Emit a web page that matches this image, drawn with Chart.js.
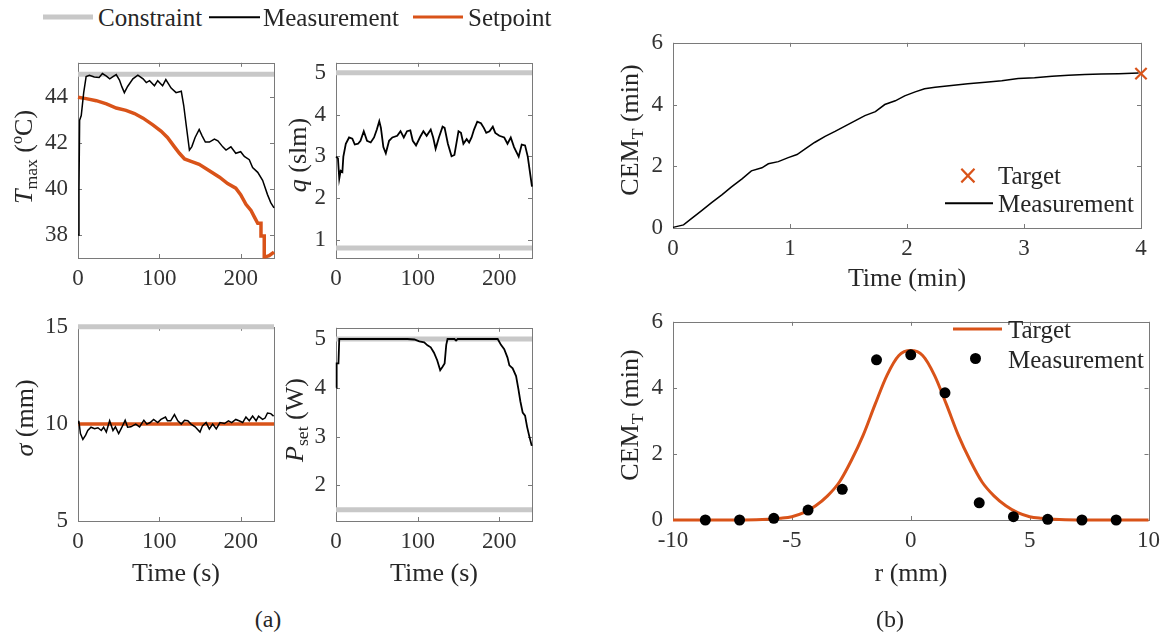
<!DOCTYPE html>
<html>
<head>
<meta charset="utf-8">
<script src="https://cdn.jsdelivr.net/npm/chart.js@4.4.1/dist/chart.umd.min.js"></script>
<style>
  body { margin: 0; width: 1168px; height: 638px; position: relative; overflow: hidden; background: #fff;
         font-family: 'Liberation Serif', 'Times New Roman', serif; color: #262626; }
  canvas { position: absolute; }
  .lbl { position: absolute; white-space: nowrap; line-height: 1; transform: translate(-50%, -50%); }
  .rot { transform: translate(-50%, -50%) rotate(-90deg); }
  .leg { position: absolute; white-space: nowrap; line-height: 1; transform: translate(0, -50%); font-size: 25px; }
  .ttl { font-size: 26px; }
  .cap { font-size: 24px; }
  .bar { position: absolute; transform: translate(0, -50%); }
  sub { font-size: 68%; vertical-align: -0.3em; }
  sup { font-size: 62%; vertical-align: 0.6em; }
</style>
</head>
<body>
<script>
/* ── colours / fonts ─────────────────────────────────────── */
const ORANGE = '#d95319';
const GRAY   = '#c8c8c8';
const BLACK  = '#000000';
const FONT   = "'Liberation Serif', 'Times New Roman', serif";

/* ── (a) T_max ───────────────────────────────────────────── */
const tmaxTime = [0, 1.2, 2, 4, 7, 10, 14, 20, 26, 30, 35, 39, 43, 47, 51, 54, 57, 61, 67.5, 73.6,
  80, 84, 88, 94, 98, 104, 108, 114.5, 120.6, 127, 130, 133, 137, 140, 144, 149, 152.6, 156.6, 161.6, 167.7,
  172, 178, 182, 188, 194, 200, 204.5, 210.6, 214.7, 221, 227, 233, 237, 241];
const tmaxMeas = [38.0, 40.0, 43.0, 43.2, 44.2, 44.9, 44.96, 44.88, 44.86, 45.03, 44.92, 44.8, 44.9, 44.99, 44.75, 44.45, 44.2, 44.47, 44.8, 44.96,
  44.8, 44.64, 44.72, 44.5, 44.72, 44.5, 44.77, 44.4, 44.2, 44.26, 43.64, 42.8, 41.7, 41.85, 42.25, 42.6, 42.32, 42.05, 42.05, 42.18,
  42.1, 41.84, 41.7, 41.84, 41.56, 41.63, 41.42, 41.28, 40.94, 40.73, 40.38, 39.76, 39.41, 39.18];
const tmaxSpTime = [0, 10, 22.5, 35, 47, 59, 69.5, 80, 92, 102, 110, 118.6, 124.7, 131, 139, 149, 161.5, 174, 184, 194,
  200, 206.5, 212.7, 216.8, 221, 225, 225, 229, 229, 230.5, 235, 241];
const tmaxSetpoint = [44.0, 43.94, 43.85, 43.71, 43.53, 43.43, 43.29, 43.09, 42.8, 42.53, 42.25, 41.84, 41.56, 41.31, 41.21, 41.08, 40.8, 40.52, 40.24, 40.04,
  39.76, 39.34, 39.07, 38.79, 38.51, 38.51, 37.96, 37.96, 37.05, 37.05, 37.1, 37.26];
const tmaxLimit = 45;
const tmaxYTicks = [38, 40, 42, 44];

/* ── (a) q ───────────────────────────────────────────────── */
const qTime = [0, 2.4, 4, 5.7, 7.8, 9, 12, 16, 20, 23, 27, 30, 34, 38, 42.5, 46.6, 50, 53, 55, 58,
  61, 65, 69, 75, 79, 83, 87, 91, 94, 98, 103, 107, 111, 116, 119, 122, 126, 130.5, 133, 137,
  141.5, 145, 150, 153, 156, 160, 163, 166, 169, 173, 177.5, 181, 184, 188, 192, 195, 200, 206, 210, 214,
  218, 223.7, 227.4, 231.5, 234.8, 240];
const qMeas = [2.99, 2.95, 2.46, 2.65, 2.62, 2.99, 3.3, 3.45, 3.42, 3.28, 3.3, 3.37, 3.6, 3.37, 3.33, 3.45, 3.64, 3.84, 3.68, 3.22,
  3.07, 3.37, 3.45, 3.49, 3.6, 3.45, 3.6, 3.62, 3.37, 3.26, 3.46, 3.6, 3.49, 3.64, 3.45, 3.18, 3.45, 3.71, 3.68, 3.3,
  3.0, 3.03, 3.6, 3.56, 3.3, 3.41, 3.33, 3.45, 3.64, 3.83, 3.79, 3.68, 3.56, 3.6, 3.71, 3.56, 3.49, 3.45, 3.3, 3.45,
  3.22, 2.99, 3.28, 3.26, 2.99, 2.27];
const qLimits = [0.8, 5];
const qYTicks = [1, 2, 3, 4, 5];

/* ── (a) sigma ───────────────────────────────────────────── */
const sigTime = [0, 1, 3, 6, 9.4, 12, 16, 20.4, 24.5, 28.6, 31.5, 34.8, 38.9, 43, 46, 50, 54, 58, 61, 65,
  71, 75.7, 81, 84.7, 88.8, 93, 98, 102, 107.6, 110, 114, 118.6, 122.7, 127, 131, 135, 139, 144, 150, 153,
  157.5, 161.5, 165.6, 170, 174.6, 180, 185, 189, 194, 198, 202.5, 206.5, 210.6, 214.7, 219, 222, 227, 230, 233, 237, 240.5];
const sigMeas = [10.05, 10.16, 9.5, 9.2, 9.42, 9.66, 9.83, 9.75, 9.8, 9.66, 9.83, 9.58, 10.16, 9.66, 9.85, 9.5, 9.83, 10.19, 9.83, 9.85,
  9.99, 9.85, 10.19, 9.99, 10.07, 10.23, 10.07, 10.23, 10.35, 10.16, 10.16, 10.48, 10.16, 9.99, 10.19, 10.16, 9.99, 9.85, 9.58, 9.9,
  10.07, 9.74, 9.99, 9.74, 10.07, 10.02, 10.16, 10.07, 10.23, 10.16, 10.07, 10.35, 10.16, 10.4, 10.16, 10.4, 10.23, 10.3, 10.56, 10.53, 10.4];
const sigSetpoint = 10;
const sigLimit = 15;
const sigYTicks = [5, 10, 15];

/* ── (a) P_set ───────────────────────────────────────────── */
const pTime = [0.5, 0.8, 3, 4, 30, 60, 87.5, 96, 102, 108, 112, 116, 120, 124, 127.6, 130.5, 133, 135, 136.6,
  145, 147, 149, 170, 198, 202, 206, 210, 212.3, 216.3, 220.5, 223.3, 225.8, 228.6, 231.5, 234, 236.8, 239.7];
const pMeas = [4.0, 4.5, 4.5, 5.0, 5.0, 5.0, 5.0, 4.99, 4.95, 4.93, 4.87, 4.83, 4.72, 4.56, 4.36, 4.43, 4.5, 4.88, 5.0,
  5.0, 4.97, 5.0, 5.0, 5.0, 4.88, 4.79, 4.62, 4.46, 4.4, 4.24, 3.98, 3.72, 3.49, 3.43, 3.2, 3.0, 2.81];
const pLimits = [1.5, 5];
const pYTicks = [2, 3, 4, 5];

const timeTicks = [0, 100, 200];

/* ── (b) CEM vs time ─────────────────────────────────────── */
const cemTime = [0, 0.09, 0.16, 0.245, 0.33, 0.42, 0.5, 0.59, 0.67, 0.76, 0.815, 0.9, 0.985, 1.06, 1.13, 1.21, 1.3, 1.385, 1.47, 1.555,
  1.64, 1.73, 1.81, 1.9, 1.98, 2.07, 2.15, 2.24, 2.38, 2.52, 2.67, 2.81, 2.95, 3.09, 3.24, 3.38, 3.52, 3.66, 3.81, 3.98];
const cemMeas = [0.02, 0.1, 0.31, 0.56, 0.82, 1.08, 1.33, 1.59, 1.85, 1.95, 2.08, 2.15, 2.28, 2.38, 2.56, 2.77, 2.97, 3.13, 3.3, 3.47,
  3.64, 3.77, 4.0, 4.12, 4.28, 4.41, 4.51, 4.56, 4.62, 4.67, 4.72, 4.77, 4.84, 4.87, 4.92, 4.95, 4.97, 4.99, 5.0, 5.02];
const cemTargetTime = [4];
const cemTarget = [5];
const minTicks = [0, 1, 2, 3, 4];
const cemYTicks = [0, 2, 4, 6];

/* ── (b) CEM profile ─────────────────────────────────────── */
const rGrid = [-10, -7, -6, -5.5, -5, -4.5, -4, -3.5, -3, -2.5, -2, -1.5, -1, -0.5, 0,
  0.5, 1, 1.5, 2, 2.5, 3, 3.5, 4, 4.5, 5, 5.5, 6, 7, 10];
const profileTarget = [0, 0, 0.02, 0.05, 0.1, 0.22, 0.43, 0.73, 1.15, 1.8, 2.57, 3.5, 4.38, 4.98, 5.13,
  4.98, 4.38, 3.5, 2.57, 1.8, 1.15, 0.73, 0.43, 0.22, 0.1, 0.05, 0.02, 0, 0];
const rMeasured = [-8.64, -7.2, -5.76, -4.32, -2.88, -1.44, 0, 1.44, 2.88, 4.32, 5.76, 7.2, 8.64];
const profileMeas = [0.0, 0.0, 0.05, 0.3, 0.93, 4.85, 5.0, 3.85, 0.52, 0.1, 0.02, 0.0, 0.0];
const rTicks = [-10, -5, 0, 5, 10];

/* ── helpers ─────────────────────────────────────────────── */
function pts(xs, ys) { return xs.map((x, i) => ({ x, y: ys[i] })); }
function hline(y, x0, x1) { return [{ x: x0, y }, { x: x1, y }]; }

function lineSet(data, color, width, order, clip) {
  return { data, borderColor: color, backgroundColor: color, borderWidth: width,
           pointRadius: 0, fill: false, tension: 0, order, clip: clip === undefined ? 2 : clip };
}

/* box around the axes plus MATLAB-style inward ticks */
const boxPlugin = {
  id: 'box',
  beforeDatasetsDraw(chart) {
    const { ctx, chartArea: a, scales } = chart;
    const x = scales.x, y = scales.y, L = 4;
    ctx.save();
    ctx.strokeStyle = '#7a7a7a';
    ctx.lineWidth = 1;
    ctx.strokeRect(Math.round(a.left) + 0.5, Math.round(a.top) + 0.5,
                   Math.round(a.right - a.left), Math.round(a.bottom - a.top));
    ctx.beginPath();
    x.ticks.forEach(t => {
      const p = Math.round(x.getPixelForValue(t.value)) + 0.5;
      ctx.moveTo(p, a.bottom); ctx.lineTo(p, a.bottom - L);
      ctx.moveTo(p, a.top);    ctx.lineTo(p, a.top + L);
    });
    y.ticks.forEach(t => {
      const p = Math.round(y.getPixelForValue(t.value)) + 0.5;
      ctx.moveTo(a.left, p);  ctx.lineTo(a.left + L, p);
      ctx.moveTo(a.right, p); ctx.lineTo(a.right - L, p);
    });
    ctx.stroke();
    ctx.restore();
  }
};

/* one axes panel: box = plot area in page pixels */
function makePanel(box, xMin, xMax, yMin, yMax, xTicks, yTicks, datasets) {
  const ML = 70, MT = 14, MR = 18, MB = 44;
  const w = Math.round(box.r - box.l) + ML + MR;
  const h = Math.round(box.b - box.t) + MT + MB;
  const c = document.createElement('canvas');
  c.width = w; c.height = h;
  c.style.left = Math.round(box.l - ML) + 'px';
  c.style.top  = Math.round(box.t - MT) + 'px';
  c.style.width = w + 'px'; c.style.height = h + 'px';
  document.body.appendChild(c);

  const tickFont = { family: FONT, size: 23 };
  return new Chart(c, {
    type: 'line',
    data: { datasets },
    plugins: [boxPlugin],
    options: {
      responsive: false,
      animation: false,
      events: [],
      layout: { padding: { left: 0, top: MT, right: MR, bottom: 0 } },
      plugins: { legend: { display: false }, tooltip: { enabled: false } },
      scales: {
        x: {
          type: 'linear', min: xMin, max: xMax,
          afterBuildTicks: s => { s.ticks = xTicks.map(v => ({ value: v })); },
          afterFit: s => { s.height = MB; },
          grid: { display: false, drawTicks: false },
          border: { display: false },
          ticks: { font: tickFont, color: '#333', padding: 7, maxRotation: 0, autoSkip: false }
        },
        y: {
          type: 'linear', min: yMin, max: yMax,
          afterBuildTicks: s => { s.ticks = yTicks.map(v => ({ value: v })); },
          afterFit: s => { s.width = ML; },
          grid: { display: false, drawTicks: false },
          border: { display: false },
          ticks: { font: tickFont, color: '#333', padding: 10, autoSkip: false }
        }
      }
    }
  });
}

function label(html, x, y, cls) {
  const d = document.createElement('div');
  d.className = 'lbl ' + (cls || '');
  d.style.left = x + 'px'; d.style.top = y + 'px';
  d.innerHTML = html;
  document.body.appendChild(d);
}
function legText(text, x, y) {
  const d = document.createElement('div');
  d.className = 'leg';
  d.style.left = x + 'px'; d.style.top = y + 'px';
  d.textContent = text;
  document.body.appendChild(d);
}
function legBar(x0, x1, y, color, thick) {
  const d = document.createElement('div');
  d.className = 'bar';
  d.style.left = x0 + 'px'; d.style.top = y + 'px';
  d.style.width = (x1 - x0) + 'px'; d.style.height = thick + 'px';
  d.style.background = color;
  document.body.appendChild(d);
}

/* ── panels ──────────────────────────────────────────────── */
makePanel({ l: 77.7, t: 53.3, r: 274, b: 258 }, 0, 241, 37, 45.5, timeTicks, tmaxYTicks, [
  lineSet(hline(tmaxLimit, 0, 241), GRAY, 5, 3, false),
  lineSet(pts(tmaxSpTime, tmaxSetpoint), ORANGE, 3.5, 2, 4),
  lineSet(pts(tmaxTime, tmaxMeas), BLACK, 1.5, 1)
]);

makePanel({ l: 336, t: 53.3, r: 531.7, b: 258.3 }, 0, 240, 0.56, 5.24, timeTicks, qYTicks, [
  lineSet(hline(qLimits[1], 0, 240), GRAY, 5, 3, false),
  lineSet(hline(qLimits[0], 0, 240), GRAY, 5, 3, false),
  lineSet(pts(qTime, qMeas), BLACK, 1.8, 1)
]);

makePanel({ l: 77.7, t: 317.3, r: 274, b: 521 }, 0, 241, 5, 15, timeTicks, sigYTicks, [
  lineSet(hline(sigLimit, 0, 241), GRAY, 5, 3, false),
  lineSet(hline(sigSetpoint, 0, 241), ORANGE, 3.5, 2),
  lineSet(pts(sigTime, sigMeas), BLACK, 1.5, 1)
]);

makePanel({ l: 336, t: 318.3, r: 531.7, b: 521 }, 0, 240, 1.27, 5.23, timeTicks, pYTicks, [
  lineSet(hline(pLimits[1], 0, 240), GRAY, 5, 3, false),
  lineSet(hline(pLimits[0], 0, 240), GRAY, 5, 3, false),
  lineSet(pts(pTime, pMeas), BLACK, 1.8, 1, 3)
]);

makePanel({ l: 672.7, t: 33, r: 1140.7, b: 228 }, 0, 4, 0, 6, minTicks, cemYTicks, [
  lineSet(pts(cemTime, cemMeas), BLACK, 1.5, 2),
  { data: pts(cemTargetTime, cemTarget), showLine: false, pointStyle: 'crossRot', pointRadius: 8,
    borderColor: ORANGE, borderWidth: 2.2, order: 1, clip: false }
]);

makePanel({ l: 672.7, t: 312, r: 1148.7, b: 520 }, -10, 10, 0, 6, rTicks, cemYTicks, [
  Object.assign(lineSet(pts(rGrid, profileTarget), ORANGE, 3, 2), { cubicInterpolationMode: 'monotone' }),
  { data: pts(rMeasured, profileMeas), showLine: false, pointStyle: 'circle', pointRadius: 5.5,
    backgroundColor: BLACK, borderColor: BLACK, borderWidth: 0, order: 1, clip: false }
]);

/* ── axis titles ─────────────────────────────────────────── */
label('<i>T</i><sub>max</sub> (<sup>o</sup>C)', 25, 157, 'ttl rot');
label('<i>q</i> (slm)', 298, 155, 'ttl rot');
label('<i>σ</i> (mm)', 25, 418, 'ttl rot');
label('<i>P</i><sub>set</sub> (W)', 297, 420, 'ttl rot');
label('CEM<sub>T</sub> (min)', 632, 130, 'ttl rot');
label('CEM<sub>T</sub> (min)', 632, 415, 'ttl rot');
label('Time (s)', 176, 573, 'ttl');
label('Time (s)', 434, 573, 'ttl');
label('Time (min)', 907, 278, 'ttl');
label('r (mm)', 911, 573, 'ttl');
label('(a)', 268, 619, 'cap');
label('(b)', 890, 619, 'cap');

/* ── legends ─────────────────────────────────────────────── */
legBar(43, 93, 17, GRAY, 5);    legText('Constraint', 98, 17);
legBar(209, 260, 17, BLACK, 1.5); legText('Measurement', 263, 17);
legBar(413, 463, 17, ORANGE, 3);  legText('Setpoint', 468, 17);

/* panel b top: cross marker + line */
(function () {
  const x = document.createElement('div');
  x.className = 'lbl';
  x.style.left = '968px'; x.style.top = '175px';
  x.style.color = ORANGE; x.style.fontSize = '26px';
  x.style.fontFamily = "'DejaVu Sans', sans-serif";
  x.textContent = '×';
  document.body.appendChild(x);
})();
legText('Target', 998, 175);
legBar(945, 993, 203, BLACK, 1.5); legText('Measurement', 998, 203);

/* panel b bottom */
legBar(953, 1002, 329, ORANGE, 3); legText('Target', 1008, 329);
(function () {
  const d = document.createElement('div');
  d.style.cssText = 'position:absolute;left:970px;top:353px;width:11px;height:11px;border-radius:50%;background:#000';
  document.body.appendChild(d);
})();
legText('Measurement', 1008, 359);
</script>
</body>
</html>
